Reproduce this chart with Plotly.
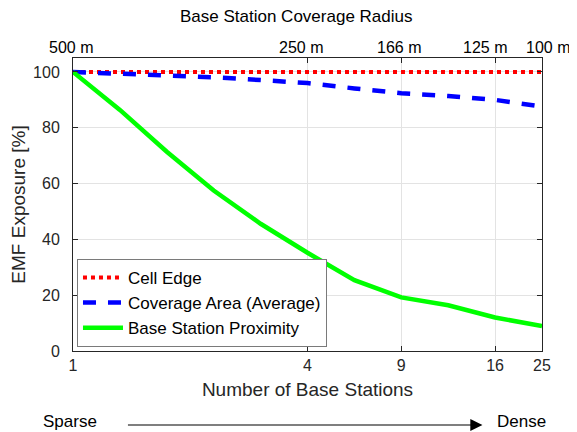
import plotly.graph_objects as go

# ---- data ----
x_pos = [0, 1, 2, 3, 4, 5, 6, 7, 8, 9, 10]
cell_edge = [100, 100, 100, 100, 100, 100, 100, 100, 100, 100, 100]
coverage_avg = [100, 99.5, 98.9, 98.1, 97.1, 96.0, 94.1, 92.4, 91.4, 90.0, 87.6]
proximity = [100, 86.4, 71.4, 57.5, 45.6, 35.2, 25.4, 19.2, 16.4, 12.0, 8.9]

bottom_tick_pos = [0, 5, 7, 9, 10]
bottom_tick_labels = ["1", "4", "9", "16", "25"]
top_label_pos = [-0.05, 4.86, 6.95, 8.78, 10.13]
top_tick_labels = ["500 m", "250 m", "166 m", "125 m", "100 m"]
y_ticks = [0, 20, 40, 60, 80, 100]

X_MIN, X_MAX = 0, 10

FONT = "Liberation Sans, Arial, Helvetica, sans-serif"
AX = "#262626"
GRID = "#e3e3e3"

fig = go.Figure()
fig.add_trace(go.Scatter(x=x_pos, y=cell_edge, mode="lines", name="Cell Edge",
                         line=dict(color="#ff0000", width=4, dash="dot")))
fig.add_trace(go.Scatter(x=x_pos, y=coverage_avg, mode="lines", name="Coverage Area (Average)",
                         line=dict(color="#0000ff", width=4.5, dash="13px,12px")))
fig.add_trace(go.Scatter(x=x_pos, y=proximity, mode="lines", name="Base Station Proximity",
                         line=dict(color="#00ff00", width=4.5)))

# page has an 8px body margin: figure is 569x424 so that it ends at the window edge
fig.update_layout(
    width=569, height=424,
    margin=dict(l=65, r=35, t=50, b=81, autoexpand=False),
    paper_bgcolor="white", plot_bgcolor="white",
    font=dict(family=FONT, color=AX, size=16),
    showlegend=True,
    legend=dict(x=0.0085, y=0.014, xanchor="left", yanchor="bottom",
                bgcolor="white", bordercolor="#7a7a7a", borderwidth=1,
                font=dict(size=17, color="black"), itemwidth=40,
                tracegroupgap=0),
    xaxis=dict(range=[X_MIN, X_MAX], tickmode="array", tickvals=bottom_tick_pos,
               ticktext=bottom_tick_labels, ticks="inside", ticklen=5, tickcolor=AX,
               showline=True, linecolor=AX, linewidth=1, mirror="ticks", automargin=False,
               showgrid=True, gridcolor=GRID, gridwidth=1, zeroline=False,
               tickfont=dict(size=16, color=AX),
               title=dict(text="Number of Base Stations", font=dict(size=19, color=AX), standoff=9)),
    yaxis=dict(range=[0, 105], tickmode="array", tickvals=y_ticks,
               ticks="inside", ticklen=5, tickcolor=AX, ticklabelstandoff=9,
               showline=True, linecolor=AX, linewidth=1, mirror="ticks", automargin=False,
               showgrid=True, gridcolor=GRID, gridwidth=1, zeroline=False,
               tickfont=dict(size=16, color=AX),
               title=dict(text="EMF Exposure [%]", font=dict(size=19, color=AX), standoff=5)),
)

# top axis (coverage radius) labels and title
for pos, lab in zip(top_label_pos, top_tick_labels):
    fig.add_annotation(xref="paper", yref="paper", x=(pos - X_MIN) / (X_MAX - X_MIN), y=1.036,
                       xanchor="center", yanchor="middle",
                       text=lab, showarrow=False, font=dict(size=16, color="black"))
fig.add_annotation(xref="paper", yref="paper", x=0.475, y=1.14, xanchor="center", yanchor="middle",
                   text="Base Station Coverage Radius", showarrow=False,
                   font=dict(size=17, color="black"))

fig.add_annotation(xref="paper", yref="paper", x=-0.068, y=-0.239, xanchor="left", yanchor="middle",
                   text="Sparse", showarrow=False, font=dict(size=17, color="black"))
fig.add_annotation(xref="paper", yref="paper", x=0.900, y=-0.239, xanchor="left", yanchor="middle",
                   text="Dense", showarrow=False, font=dict(size=17, color="black"))
fig.add_annotation(xref="paper", yref="paper", x=0.873, y=-0.2526, ax=-356, ay=0,
                   text="", showarrow=True, arrowhead=2, arrowsize=2.2, arrowwidth=1.1,
                   arrowcolor="black")

fig.write_html("out.html")
